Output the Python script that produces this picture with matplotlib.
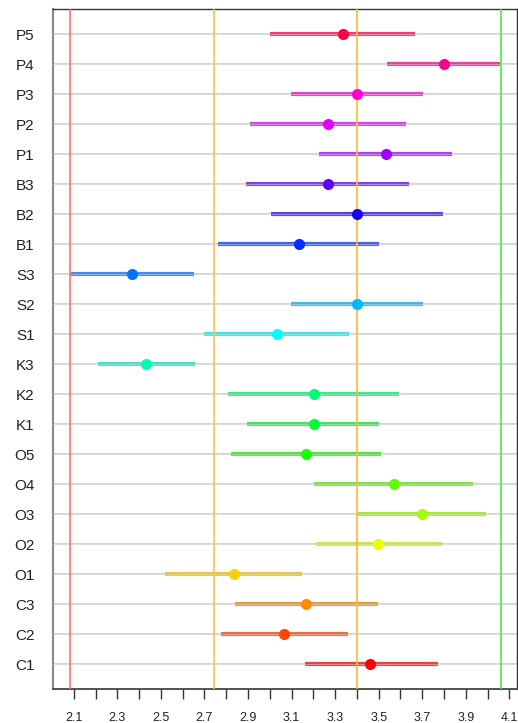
import matplotlib
matplotlib.use("Agg")
import matplotlib.pyplot as plt
import matplotlib.colors as mcolors
import numpy as np

plt.rcParams['font.family'] = ['Liberation Sans', 'DejaVu Sans']

# Categories listed bottom to top
categories = ["C1", "C2", "C3", "O1", "O2", "O3", "O4", "O5", "K1", "K2", "K3",
              "S1", "S2", "S3", "B1", "B2", "B3", "P1", "P2", "P3", "P4", "P5"]
means = [3.462, 3.065, 3.166, 2.835, 3.498, 3.699, 3.570, 3.166, 3.201, 3.201, 2.432,
         3.031, 3.400, 2.369, 3.133, 3.400, 3.268, 3.533, 3.268, 3.400, 3.800, 3.334]
lows = [3.161, 2.777, 2.838, 2.521, 3.213, 3.400, 3.201, 2.824, 2.897, 2.807, 2.212,
        2.699, 3.097, 2.086, 2.763, 3.006, 2.893, 3.227, 2.911, 3.097, 3.536, 3.002]
highs = [3.772, 3.359, 3.496, 3.147, 3.790, 3.994, 3.933, 3.510, 3.502, 3.593, 2.657,
         3.366, 3.703, 2.651, 3.502, 3.795, 3.639, 3.838, 3.626, 3.703, 4.058, 3.665]
ref_lines = [2.083, 2.743, 3.400, 4.060]
ref_colors = ["#ff6f6f", "#ffc04d", "#ffb833", "#44ee44"]
tick_values = [round(2.1 + 0.1 * i, 1) for i in range(21)]

n = len(categories)
colors = [mcolors.hsv_to_rgb((i / n, 1.0, 1.0)) for i in range(n)]
grey = np.array([0.55, 0.55, 0.55])
bar_colors = [0.75 * np.array(c) + 0.25 * grey for c in colors]

fig = plt.figure(figsize=(5.18, 7.23), dpi=100)
ax = fig.add_axes([0.1017, 0.0466, 0.8963, 0.9405])

ypos = np.arange(1, n + 1)

for y in ypos:
    ax.axhline(y, color="#c8c8c8", lw=1.1, zorder=1)

for i in range(n):
    ax.plot([lows[i], highs[i]], [ypos[i], ypos[i]], color=bar_colors[i], lw=3.0,
            alpha=0.85, solid_capstyle="butt", zorder=2)

for y in ypos:
    ax.axhline(y, color="#e6e6e6", lw=0.9, alpha=0.45, zorder=3)

for xv, c in zip(ref_lines, ref_colors):
    ax.axvline(xv, color=c, lw=1.2, zorder=3.5)

for i in range(n):
    ax.plot(means[i], ypos[i], "o", color=colors[i], markersize=8, zorder=4,
            markeredgewidth=0)

ax.set_xlim(2.003, 4.135)
ax.set_ylim(0.167, 22.833)

ax.set_yticks(ypos)
ax.set_yticklabels(categories, fontsize=11, color="#222222")
ax.tick_params(axis="y", length=0, pad=13)

ax.set_xticks(tick_values)
ax.set_xticklabels([f"{v:.1f}" if i % 2 == 0 else "" for i, v in enumerate(tick_values)],
                   fontsize=9, color="#222222")
ax.tick_params(axis="x", length=7, width=1, pad=9, color="#333333")

ax.spines["left"].set_color("#888888")
ax.spines["left"].set_linewidth(1.5)
ax.spines["bottom"].set_color("#444444")
ax.spines["bottom"].set_linewidth(1.3)
ax.spines["top"].set_color("#333333")
ax.spines["top"].set_linewidth(1.0)
ax.spines["right"].set_color("#333333")
ax.spines["right"].set_linewidth(1.0)

fig.savefig("out.png", dpi=100)
